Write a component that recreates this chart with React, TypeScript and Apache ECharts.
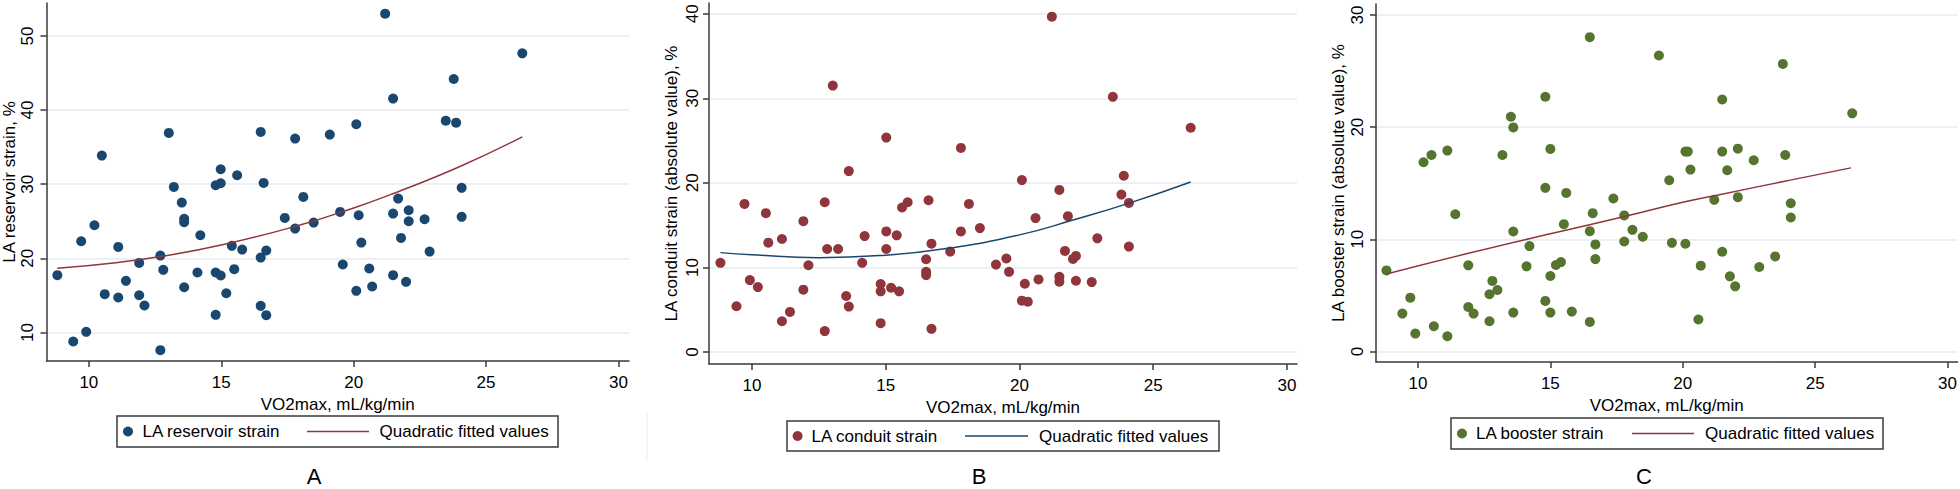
import React, { useEffect, useRef } from "react";
import * as echarts from "echarts";

// ---- tick labels ----
const xTicks = [10, 15, 20, 25, 30];
const yTicksA = [10, 20, 30, 40, 50];
const yTicksB = [0, 10, 20, 30, 40];
const yTicksC = [0, 10, 20, 30];

// ---- titles / legend labels ----
const xTitle = "VO2max, mL/kg/min";
const yTitleA = "LA reservoir strain, %";
const yTitleB = "LA conduit strain (absolute value), %";
const yTitleC = "LA booster strain (absolute value), %";
const seriesNames = ["LA reservoir strain", "LA conduit strain", "LA booster strain"];
const fitName = "Quadratic fitted values";
const panelLetters = ["A", "B", "C"];

// ---- Panel A: LA reservoir strain ----
const reservoirX = [8.81, 9.41, 9.71, 9.9, 10.21, 10.49, 10.6, 11.11, 11.11, 11.4, 11.9, 11.9, 12.1, 12.7, 12.7, 12.81, 13.02, 13.21, 13.51, 13.6, 13.6, 13.6, 14.1, 14.21, 14.79, 14.79, 14.79, 14.98, 14.98, 14.98, 15.19, 15.4, 15.49, 15.6, 15.79, 16.49, 16.49, 16.49, 16.6, 16.7, 16.7, 17.4, 17.79, 17.79, 18.1, 18.49, 19.1, 19.49, 19.59, 20.1, 20.19, 20.1, 20.29, 20.59, 20.7, 21.19, 21.49, 21.49, 21.49, 21.68, 21.79, 21.98, 22.08, 22.08, 22.68, 22.87, 23.48, 23.78, 23.87, 24.08, 24.08, 26.37];
const reservoirY = [17.73, 8.79, 22.31, 10.09, 24.47, 33.87, 15.17, 21.55, 14.72, 16.97, 19.39, 15.03, 13.64, 20.38, 7.62, 18.45, 36.92, 29.64, 27.53, 25.33, 24.88, 16.11, 18.09, 23.12, 29.87, 18.09, 12.38, 30.13, 32.02, 17.69, 15.3, 21.69, 18.54, 31.21, 21.19, 37.06, 20.11, 13.6, 30.18, 21.06, 12.34, 25.46, 36.16, 24.02, 28.29, 24.83, 36.7, 26.27, 19.17, 38.09, 25.82, 15.62, 22.13, 18.63, 16.2, 53.01, 41.55, 26.04, 17.73, 28.07, 22.76, 16.83, 26.49, 25.01, 25.28, 20.92, 38.58, 44.2, 38.31, 29.51, 25.6, 47.66];
const fitAX = [8.81, 11.11, 12.7, 15, 17.78, 20, 21.5, 24.08, 26.37];
const fitAY = [18.67, 19.45, 20.25, 21.8, 24.3, 26.8, 28.75, 32.5, 36.4];

// ---- Panel B: LA conduit strain ----
const conduitX = [8.82, 9.42, 9.72, 9.92, 10.22, 10.52, 10.61, 11.12, 11.12, 11.42, 11.92, 11.92, 12.11, 12.72, 12.72, 12.81, 13.02, 13.22, 13.52, 13.62, 13.62, 14.12, 14.21, 14.81, 14.81, 14.81, 15.02, 15.02, 15.02, 15.2, 15.41, 15.5, 15.61, 15.82, 16.51, 16.51, 16.51, 16.6, 16.71, 16.71, 17.41, 17.81, 17.81, 18.11, 18.52, 19.12, 19.51, 19.61, 20.09, 20.2, 20.09, 20.31, 20.6, 20.71, 21.21, 21.49, 21.49, 21.49, 21.7, 21.81, 22.0, 22.11, 22.11, 22.7, 22.91, 23.49, 23.81, 23.9, 24.09, 24.09, 26.4];
const conduitY = [10.54, 5.41, 17.51, 8.5, 7.68, 16.42, 12.93, 13.36, 3.64, 4.74, 15.47, 7.37, 10.26, 17.71, 2.47, 12.18, 31.5, 12.18, 6.62, 21.39, 5.37, 10.54, 13.71, 8.03, 7.17, 3.41, 25.35, 14.26, 12.18, 7.6, 13.79, 7.17, 17.08, 17.71, 10.97, 9.48, 9.09, 17.94, 12.81, 2.74, 11.87, 24.13, 14.26, 17.51, 14.65, 10.34, 11.05, 9.48, 20.33, 8.07, 6.07, 5.95, 15.83, 8.58, 39.65, 19.16, 8.89, 8.31, 11.95, 16.06, 11.01, 11.36, 8.42, 8.27, 13.44, 30.17, 18.61, 20.84, 17.63, 12.46, 26.52];
const fitBX = [8.82, 10, 12.5, 15, 17.2, 20, 22, 24.1, 26.4];
const fitBY = [11.75, 11.5, 11.15, 11.45, 12.2, 13.85, 15.6, 17.6, 20.1];

// ---- Panel C: LA booster strain ----
const boosterX = [8.81, 9.41, 9.71, 9.9, 10.21, 10.51, 10.6, 11.11, 11.11, 11.41, 11.9, 11.9, 12.1, 12.7, 12.7, 12.81, 13.0, 13.19, 13.51, 13.6, 13.6, 13.6, 14.1, 14.21, 14.81, 14.81, 14.81, 15.0, 15.0, 15.0, 15.21, 15.4, 15.51, 15.6, 15.81, 16.49, 16.49, 16.49, 16.6, 16.7, 16.7, 17.38, 17.79, 17.79, 18.1, 18.49, 19.1, 19.49, 19.59, 20.1, 20.1, 20.19, 20.29, 20.59, 20.68, 21.19, 21.49, 21.49, 21.49, 21.68, 21.78, 21.98, 22.08, 22.08, 22.68, 22.89, 23.49, 23.78, 23.87, 24.08, 24.08, 26.4];
const boosterY = [7.23, 3.38, 4.8, 1.6, 16.87, 17.52, 2.25, 17.91, 1.36, 12.24, 7.68, 3.97, 3.38, 5.1, 2.7, 6.29, 5.48, 17.52, 20.93, 19.98, 10.7, 3.47, 7.59, 9.4, 22.71, 14.59, 4.51, 18.06, 6.73, 3.47, 7.71, 7.97, 11.35, 14.14, 3.56, 28.02, 10.73, 2.64, 12.33, 9.55, 8.24, 13.64, 12.13, 9.81, 10.85, 10.23, 26.39, 15.27, 9.69, 9.61, 17.82, 17.82, 16.22, 2.85, 7.65, 13.52, 22.47, 17.82, 8.89, 16.16, 6.7, 5.81, 18.08, 13.76, 17.05, 7.53, 8.48, 25.64, 17.52, 13.22, 11.95, 21.23];
const fitCX = [8.81, 11.9, 15, 17.8, 20, 21.43, 24.1, 26.35];
const fitCY = [6.91, 8.75, 10.5, 12.03, 13.3, 14.0, 15.3, 16.37];

const NAVY = "#1a476f";
const MAROON = "#90353b";
const GREEN = "#55752f";
const AXIS = "#3a3a3a";
const GRIDC = "#e3ebf0";
const FONT = 'Arial, "Liberation Sans", Helvetica, sans-serif';

const zip = (xs: number[], ys: number[]) => xs.map((x, i) => [x, ys[i]]);

const panels = [
  {
    grid: { left: 46, top: 3, width: 583, height: 358 },
    xmin: 8.4, xmax: 30.4, ymin: 6.155, ymax: 54.45,
    yTicks: yTicksA, yTitle: yTitleA, yLabelMargin: 10.5, yNameGap: 28.5,
    pts: zip(reservoirX, reservoirY), fit: zip(fitAX, fitAY),
    dot: NAVY, line: MAROON,
    legend: { x: 117, y: 416, w: 441, h: 31, marker: 128, t1: 142.5, l1: 307, l2: 369, t2: 379.5 },
    letter: { x: 314, y: 476 },
  },
  {
    grid: { left: 709, top: 3, width: 588, height: 361 },
    xmin: 8.393, xmax: 30.374, ymin: -1.419, ymax: 41.265,
    yTicks: yTicksB, yTitle: yTitleB, yLabelMargin: 8, yNameGap: 29.5,
    pts: zip(conduitX, conduitY), fit: zip(fitBX, fitBY),
    dot: MAROON, line: NAVY,
    legend: { x: 787, y: 421, w: 432, h: 30, marker: 797.6, t1: 811.5, l1: 965, l2: 1028, t2: 1039 },
    letter: { x: 979, y: 476 },
  },
  {
    grid: { left: 1376, top: 4, width: 582, height: 358 },
    xmin: 8.415, xmax: 30.377, ymin: -0.936, ymax: 30.98,
    yTicks: yTicksC, yTitle: yTitleC, yLabelMargin: 10.5, yNameGap: 29.5,
    pts: zip(boosterX, boosterY), fit: zip(fitCX, fitCY),
    dot: GREEN, line: MAROON,
    legend: { x: 1451, y: 418, w: 432, h: 31, marker: 1462, t1: 1476, l1: 1632, l2: 1694, t2: 1705 },
    letter: { x: 1644, y: 476 },
  },
];

export default function App() {
  const ref = useRef<HTMLDivElement>(null);
  useEffect(() => {
    if (!ref.current) return;
    const chart = echarts.init(ref.current, undefined, { renderer: "svg" });
    const graphic: any[] = [];
    panels.forEach((p, i) => {
      const L = p.legend;
      const cy = L.y + L.h / 2;
      graphic.push(
        { type: "rect", shape: { x: L.x, y: L.y, width: L.w, height: L.h }, style: { fill: "#fff", stroke: AXIS, lineWidth: 1.5 } },
        { type: "circle", shape: { cx: L.marker, cy, r: 5 }, style: { fill: p.dot } },
        { type: "text", x: L.t1, y: cy, style: { text: seriesNames[i], fontSize: 17, fontFamily: FONT, fill: "#000", align: "left", verticalAlign: "middle" } },
        { type: "line", shape: { x1: L.l1, y1: cy, x2: L.l2, y2: cy }, style: { stroke: p.line, lineWidth: 1.5 } },
        { type: "text", x: L.t2, y: cy, style: { text: fitName, fontSize: 17, fontFamily: FONT, fill: "#000", align: "left", verticalAlign: "middle" } },
        { type: "text", x: p.letter.x, y: p.letter.y, style: { text: panelLetters[i], fontSize: 22, fontFamily: FONT, fill: "#000", align: "center", verticalAlign: "middle" } }
      );
    });
    graphic.push({ type: "line", shape: { x1: 647, y1: 413, x2: 647, y2: 462 }, style: { stroke: "#ececec", lineWidth: 1 } });

    const option: any = {
      animation: false,
      backgroundColor: "#fff",
      grid: panels.map((p) => ({ ...p.grid, containLabel: false })),
      xAxis: panels.map((p, i) => ({
        type: "value",
        gridIndex: i,
        min: p.xmin,
        max: p.xmax,
        name: xTitle,
        nameLocation: "middle",
        nameGap: 29,
        nameTextStyle: { fontSize: 17, color: "#000", fontFamily: FONT },
        axisLine: { show: true, onZero: false, lineStyle: { color: AXIS, width: 1.5 } },
        axisTick: { show: true, length: 6, inside: false, customValues: xTicks, lineStyle: { color: AXIS, width: 1.5 } },
        axisLabel: { customValues: xTicks, fontSize: 17, color: "#000", margin: 13, fontFamily: FONT },
        splitLine: { show: false },
      })),
      yAxis: panels.map((p, i) => ({
        type: "value",
        gridIndex: i,
        min: p.ymin,
        max: p.ymax,
        name: p.yTitle,
        nameLocation: "middle",
        nameGap: p.yNameGap,
        nameRotate: 90,
        nameTextStyle: { fontSize: 17, color: "#000", fontFamily: FONT },
        axisLine: { show: true, onZero: false, lineStyle: { color: AXIS, width: 1.5 } },
        axisTick: { show: true, length: 6, inside: false, customValues: p.yTicks, lineStyle: { color: AXIS, width: 1.5 } },
        axisLabel: { customValues: p.yTicks, rotate: 90, fontSize: 17, color: "#000", margin: p.yLabelMargin, fontFamily: FONT },
        splitLine: { show: true, lineStyle: { color: GRIDC, width: 1.5 } },
      })),
      series: panels.flatMap((p, i) => [
        {
          type: "scatter",
          name: seriesNames[i],
          xAxisIndex: i,
          yAxisIndex: i,
          data: p.pts,
          symbol: "circle",
          symbolSize: 10,
          itemStyle: { color: p.dot, opacity: 1 },
          z: 2,
        },
        {
          type: "line",
          name: fitName,
          xAxisIndex: i,
          yAxisIndex: i,
          data: p.fit,
          smooth: true,
          symbol: "none",
          lineStyle: { color: p.line, width: 1.5 },
          z: 3,
        },
      ]),
      graphic,
    };
    chart.setOption(option);
    return () => chart.dispose();
  }, []);
  return <div ref={ref} style={{ position: "fixed", left: 0, top: 0, width: 1960, height: 489 }} />;
}
